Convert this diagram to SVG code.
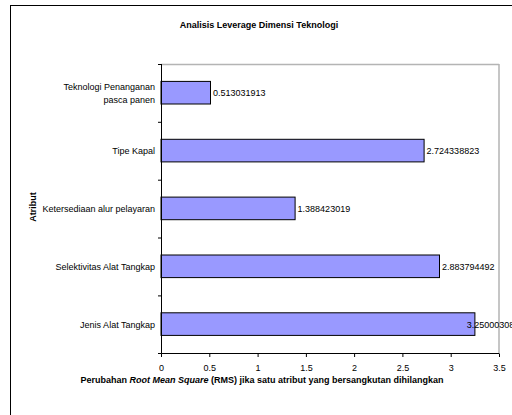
<svg xmlns="http://www.w3.org/2000/svg" width="512" height="415" viewBox="0 0 512 415">
<style>
text{font-family:"Liberation Sans",Arial,sans-serif;font-size:9px;fill:#000}
.b{font-weight:bold}
.cat{text-anchor:end}
.tick{text-anchor:middle}
.bar{fill:#9999ff;stroke:#000;stroke-width:1}
.ax{stroke:#000;stroke-width:1;fill:none}
</style>
<rect x="0" y="0" width="512" height="415" fill="#fff"/>
<rect x="10.5" y="5.5" width="520" height="420" fill="#fff" stroke="#000" stroke-width="1"/>
<text class="b" x="259" y="27.5" text-anchor="middle">Analisis Leverage Dimensi Teknologi</text>
<g id="plot-area">
<path d="M161 64.5H499M499 64V353.5" fill="none" stroke="#b4b4b4" stroke-width="1.5"/>
</g>
<g id="bars">
<g id="bar-teknologi">
<rect class="bar" x="161" y="81.4" width="49.5" height="22.6"/>
<text class="cat" x="155" y="90">Teknologi Penanganan</text>
<text class="cat" x="155" y="102.5">pasca panen</text>
<text x="213" y="96.2">0.513031913</text>
</g>
<g id="bar-tipe-kapal">
<rect class="bar" x="161" y="139.3" width="263.1" height="22.6"/>
<text class="cat" x="155" y="154">Tipe Kapal</text>
<text x="426.6" y="154">2.724338823</text>
</g>
<g id="bar-ketersediaan">
<rect class="bar" x="161" y="197.1" width="134.1" height="22.6"/>
<text class="cat" x="155" y="211.8">Ketersediaan alur pelayaran</text>
<text x="297.6" y="211.8">1.388423019</text>
</g>
<g id="bar-selektivitas">
<rect class="bar" x="161" y="255" width="278.5" height="22.6"/>
<text class="cat" x="155" y="269.7">Selektivitas Alat Tangkap</text>
<text x="442" y="269.7">2.883794492</text>
</g>
<g id="bar-jenis">
<rect class="bar" x="161" y="312.8" width="313.9" height="22.6"/>
<text class="cat" x="155" y="327.5">Jenis Alat Tangkap</text>
<text x="466.7" y="327.5">3.250003088</text>
</g>
</g>
<g id="axes">
<path class="ax" d="M161.5 64V353.5H499"/>
<path class="ax" d="M158 64.5H161.5M158 122.3H161.5M158 180.2H161.5M158 238H161.5M158 295.9H161.5M158 353.5H161.5"/>
<path class="ax" d="M161.5 353.5V357M209.8 353.5V357M258.1 353.5V357M306.4 353.5V357M354.6 353.5V357M402.9 353.5V357M451.2 353.5V357M499.5 353.5V357"/>
<text class="tick" x="161.5" y="370.5">0</text>
<text class="tick" x="209.8" y="370.5">0.5</text>
<text class="tick" x="258.1" y="370.5">1</text>
<text class="tick" x="306.4" y="370.5">1.5</text>
<text class="tick" x="354.6" y="370.5">2</text>
<text class="tick" x="402.9" y="370.5">2.5</text>
<text class="tick" x="451.2" y="370.5">3</text>
<text class="tick" x="499.5" y="370.5">3.5</text>
<text class="b" x="262" y="382.5" text-anchor="middle">Perubahan <tspan font-style="italic">Root Mean Square</tspan> (RMS) jika satu atribut yang bersangkutan dihilangkan</text>
<text class="b" transform="translate(35.5 207) rotate(-90)" text-anchor="middle">Atribut</text>
</g>
</svg>
